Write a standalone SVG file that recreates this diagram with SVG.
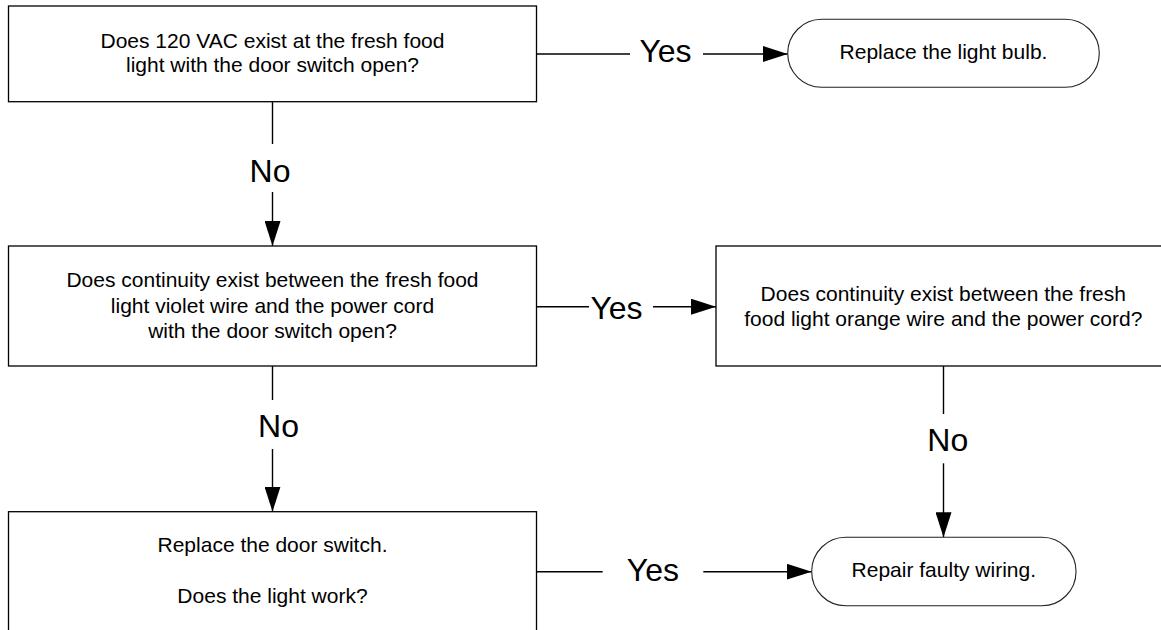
<svg xmlns="http://www.w3.org/2000/svg" width="1161" height="630" viewBox="0 0 1161 630">
<style>
.box{fill:#fff;stroke:#000;stroke-width:1.3}
.term{fill:#fff;stroke:#222;stroke-width:1.1}
.t{font-family:"Liberation Sans",Arial,sans-serif;font-size:21px;text-anchor:middle;fill:#000}
.lbl{font-family:"Liberation Sans",Arial,sans-serif;font-size:32px;text-anchor:middle;fill:#000}
.ln{fill:none;stroke:#000;stroke-width:1.4}
</style>
<defs>
<marker id="arr" viewBox="0 0 25 16" markerWidth="25" markerHeight="16" refX="25" refY="8" markerUnits="userSpaceOnUse" orient="auto">
<path d="M0,0 L25,8 L0,16 Z" fill="#000"/>
</marker>
</defs>
<rect x="0" y="0" width="1161" height="630" fill="#fff"/>
<g id="connectors">
<path class="ln" d="M272.5,101.7 V144"/>
<path class="ln" d="M272.5,192 V246" marker-end="url(#arr)"/>
<text class="lbl" x="270" y="182.3">No</text>
<path class="ln" d="M272.5,366 V400"/>
<path class="ln" d="M272.5,449 V511.7" marker-end="url(#arr)"/>
<text class="lbl" x="278.5" y="436.7">No</text>
<path class="ln" d="M943.5,366 V414"/>
<path class="ln" d="M943.5,463.3 V537.3" marker-end="url(#arr)"/>
<text class="lbl" x="947.8" y="450.7">No</text>
<path class="ln" d="M536.5,54 H630"/>
<path class="ln" d="M703,54 H787.7" marker-end="url(#arr)"/>
<text class="lbl" x="665.5" y="62.3">Yes</text>
<path class="ln" d="M536.5,306.7 H589"/>
<path class="ln" d="M653,306.7 H716" marker-end="url(#arr)"/>
<text class="lbl" x="616.5" y="319.3">Yes</text>
<path class="ln" d="M536.5,571.7 H602.7"/>
<path class="ln" d="M703.3,571.7 H811.7" marker-end="url(#arr)"/>
<text class="lbl" x="652.9" y="581">Yes</text>
</g>
<g id="q1">
<rect class="box" x="8.5" y="6" width="528" height="95.7"/>
<text class="t" x="272.5" y="47.7">Does 120 VAC exist at the fresh food</text>
<text class="t" x="272.5" y="72">light with the door switch open?</text>
</g>
<g id="end1">
<rect class="term" x="787.7" y="19.3" width="311.6" height="68" rx="34" ry="34"/>
<text class="t" x="943.5" y="59.2">Replace the light bulb.</text>
</g>
<g id="q2">
<rect class="box" x="8.5" y="246" width="528" height="120"/>
<text class="t" x="272.5" y="287">Does continuity exist between the fresh food</text>
<text class="t" x="272.5" y="312.7">light violet wire and the power cord</text>
<text class="t" x="272.5" y="338.3">with the door switch open?</text>
</g>
<g id="q3">
<rect class="box" x="716" y="246" width="454" height="120"/>
<text class="t" x="943.3" y="300.7">Does continuity exist between the fresh</text>
<text class="t" x="943.3" y="325.7">food light orange wire and the power cord?</text>
</g>
<g id="q4">
<rect class="box" x="8.5" y="511.7" width="528" height="130"/>
<text class="t" x="272.5" y="551.7">Replace the door switch.</text>
<text class="t" x="272.5" y="603">Does the light work?</text>
</g>
<g id="end2">
<rect class="term" x="811.7" y="537.3" width="264.3" height="68.4" rx="34" ry="34"/>
<text class="t" x="943.8" y="577.3">Repair faulty wiring.</text>
</g>
</svg>
